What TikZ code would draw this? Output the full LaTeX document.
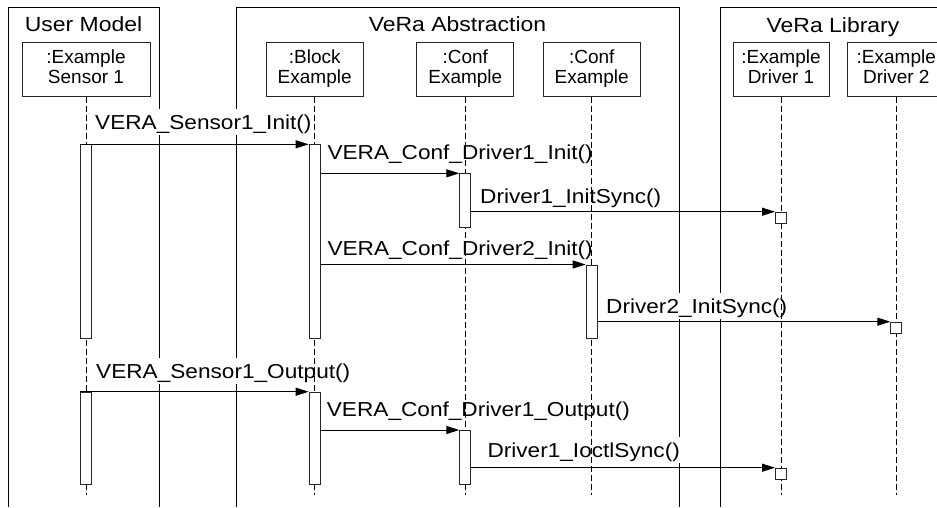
\documentclass[tikz,border=0pt]{standalone}
\usepackage{fontspec}
\setmainfont{Liberation Sans}
\newfontfamily\widefont[FakeStretch=1.12]{Liberation Sans}
\usetikzlibrary{arrows.meta}
\begin{document}
\begin{tikzpicture}[x=1pt,y=-1pt,
  frame/.style={draw=black,line width=1pt},
  title/.style={font=\widefont\fontsize{20.5}{24}\selectfont, anchor=base, inner sep=0pt},
  objbox/.style={draw=black!85, fill=white, line width=1pt, minimum height=54pt, inner sep=0pt, align=center, font=\fontsize{19}{20.5}\selectfont},
  msg/.style={fill=white, inner sep=1.5pt, text height=19pt, text depth=4pt, anchor=base west, font=\widefont\fontsize{20.2}{24}\selectfont},
  lifeline/.style={draw=black, line width=0.9pt, dash pattern=on 6pt off 3pt},
  actbar/.style={draw=black!85, fill=white, line width=1pt, minimum width=11pt, inner sep=0pt, anchor=north},
  callarrow/.style={draw=black, line width=1pt, -{Triangle[length=13pt,width=8pt]}},
]
\useasboundingbox (0,0) rectangle (937,507);
\clip (0,0) rectangle (937,507);

% swimlane frames
\draw[frame] (8,507) -- (8,7) -- (159,7) -- (159,507);
\draw[frame] (236,507) -- (236,7) -- (679,7) -- (679,507);
\draw[frame] (720,507) -- (720,7) -- (950,7) -- (950,507);
\node[title] (t1) at (83.5,31.7) {User Model};
\node[title] (t2) at (457.5,31.7) {VeRa Abstraction};
\node[title] (t3) at (833,32) {VeRa Library};

% message labels
\node[msg] (m1) at (93.5,129.5) {VERA\_Sensor1\_Init()};
\node[msg] (m2) at (325.8,159.3) {VERA\_Conf\_Driver1\_Init()};
\node[msg] (m3) at (478.5,203) {Driver1\_InitSync()};
\node[msg] (m4) at (325.8,255) {VERA\_Conf\_Driver2\_Init()};
\node[msg] (m5) at (604.5,313.3) {Driver2\_InitSync()};
\node[msg] (m6) at (94.5,378.3) {VERA\_Sensor1\_Output()};
\node[msg] (m7) at (325.2,416.7) {VERA\_Conf\_Driver1\_Output()};
\node[msg] (m8) at (485.8,457.5) {Driver1\_IoctlSync()};

% objects
\node[objbox, minimum width=128pt] (s1) at (86,69) {:Example\\Sensor 1\rule[-5pt]{0pt}{1pt}};
\node[objbox, minimum width=97pt] (blk) at (314.7,69) {:Block\\Example\rule[-5pt]{0pt}{1pt}};
\node[objbox, minimum width=97pt] (cf1) at (465.3,69) {:Conf\\Example\rule[-5pt]{0pt}{1pt}};
\node[objbox, minimum width=97pt] (cf2) at (591.7,69) {:Conf\\Example\rule[-5pt]{0pt}{1pt}};
\node[objbox, minimum width=96pt] (dr1) at (781,69) {:Example\\Driver 1\rule[-5pt]{0pt}{1pt}};
\node[objbox, minimum width=97pt] (dr2) at (896.3,69) {:Example\\Driver 2\rule[-5pt]{0pt}{1pt}};

% lifelines
\coordinate (s1e) at (86,495);
\coordinate (blke) at (314.7,495);
\coordinate (cf1e) at (465.3,495);
\coordinate (cf2e) at (591.7,495);
\coordinate (dr1e) at (781,495);
\coordinate (dr2e) at (896.3,495);
\draw[lifeline] (s1.south) -- (s1e);
\draw[lifeline] (blk.south) -- (blke);
\draw[lifeline] (cf1.south) -- (cf1e);
\draw[lifeline] (cf2.south) -- (cf2e);
\draw[lifeline] (dr1.south) -- (dr1e);
\draw[lifeline] (dr2.south) -- (dr2e);

% activation bars
\node[actbar, minimum height=193.4pt] (s1A) at (86,144.3) {};
\node[actbar, minimum height=193.4pt] (blkA) at (314.7,144.3) {};
\node[actbar, minimum height=54pt] (cf1A) at (465.3,173.3) {};
\node[actbar, minimum height=73.2pt] (cf2A) at (591.7,264.5) {};
\node[actbar, minimum height=92pt] (s1B) at (86,391.7) {};
\node[actbar, minimum height=92pt] (blkB) at (314.7,391.7) {};
\node[actbar, minimum height=53.7pt] (cf1B) at (465.3,430) {};
\node[actbar, minimum height=11pt] (d1a) at (781,211.7) {};
\node[actbar, minimum height=11pt] (d2a) at (896.3,321.7) {};
\node[actbar, minimum height=11pt] (d1b) at (781,467.7) {};

% calls
\draw[callarrow] (s1A.north west) -- (blkA.north west);
\draw[callarrow] (blkA.east |- cf1A.north) -- (cf1A.north west);
\draw[callarrow] (cf1A.east |- d1a.north) -- (d1a.north west);
\draw[callarrow] (blkA.east |- cf2A.north) -- (cf2A.north west);
\draw[callarrow] (cf2A.east |- d2a.north) -- (d2a.north west);
\draw[callarrow] (s1B.north west) -- (blkB.north west);
\draw[callarrow] (blkB.east |- cf1B.north) -- (cf1B.north west);
\draw[callarrow] (cf1B.east |- d1b.north) -- (d1b.north west);
\end{tikzpicture}
\end{document}
